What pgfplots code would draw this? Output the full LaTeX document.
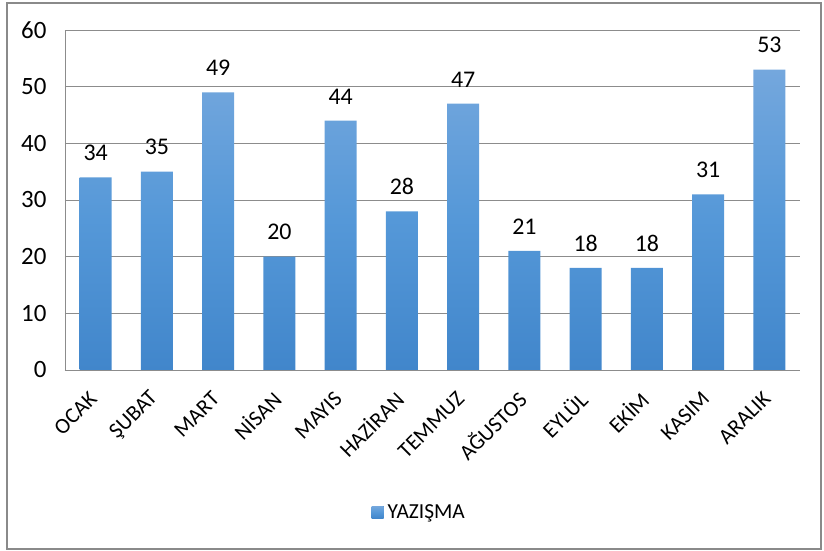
\documentclass[border=0pt]{standalone}
\usepackage{fontspec}
\setmainfont{Carlito}
\usepackage{pgfplots}
\pgfplotsset{compat=1.18}
\definecolor{bartop}{HTML}{74A7DD}
\definecolor{barmid}{HTML}{5598D8}
\definecolor{barbot}{HTML}{4186CB}
\definecolor{gridc}{HTML}{8C8C8C}
\definecolor{framec}{HTML}{8A8A8A}
\begin{document}
\begin{tikzpicture}[x=1bp,y=1bp]
\path (-65,-181) rectangle (759,370);
\draw[framec, line width=1.2bp] (-58,-179) rectangle (756,367);
\begin{axis}[
  at={(0,0)}, anchor=south west,
  width=735bp, height=340bp, scale only axis,
  xmin=-0.5, xmax=11.5, ymin=0, ymax=60,
  ytick={0,10,...,60},
  xtick=data,
  xticklabels={OCAK,ŞUBAT,MART,NİSAN,MAYIS,HAZİRAN,TEMMUZ,AĞUSTOS,EYLÜL,EKİM,KASIM,ARALIK},
  /pgf/number format/assume math mode=true,
  xticklabel style={rotate=45, anchor=east, font=\fontsize{22}{26}\selectfont},
  xticklabel shift=23bp,
  yticklabel style={font=\fontsize{25}{28}\selectfont, xshift=-15bp},
  major tick length=0pt,
  ymajorgrids=true, grid style={gridc, line width=0.9bp},
  axis x line*=bottom, axis y line*=left,
  axis line style={gridc, line width=0.9bp, -},
  ybar, bar width=32bp,
  nodes near coords,
  every node near coord/.append style={font=\fontsize{24}{28}\selectfont, text=black, anchor=south, yshift=13bp},
  legend style={draw=none, fill=none, at={(0.482,-0.418)}, anchor=center,
    font=\fontsize{21.5}{25}\selectfont},
  legend image code/.code={\fill[barbot] (0bp,-6bp) rectangle (12bp,6bp); \path (14bp,0bp);},
]
\addplot[draw=none, top color=bartop, bottom color=barbot, middle color=barmid]
  coordinates {(0,34) (1,35) (2,49) (3,20) (4,44) (5,28) (6,47) (7,21) (8,18) (9,18) (10,31) (11,53)};
\addlegendentry{YAZIŞMA}
\end{axis}
\end{tikzpicture}
\end{document}
